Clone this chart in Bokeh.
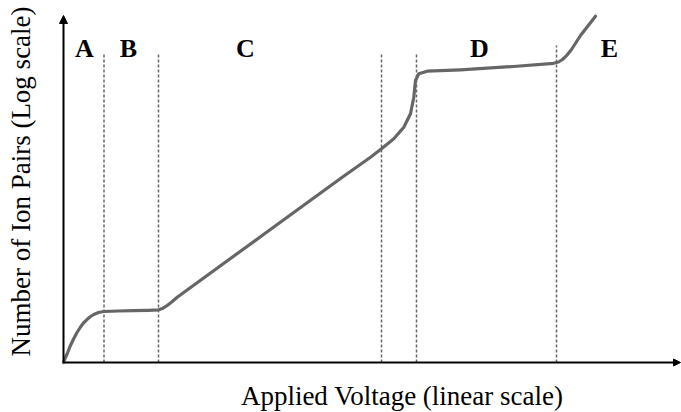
import math
from bokeh.plotting import figure
from bokeh.models import Range1d, Arrow, NormalHead, Label, ColumnDataSource
from bokeh.core.properties import value
from bokeh.embed import file_html
from bokeh.resources import INLINE

# Curve: applied voltage (arbitrary linear units) vs log number of ion pairs (arbitrary units)
voltage = [0, 1.5, 3.7, 6.5, 10.3, 13.5, 17, 20, 23.7, 27, 30.3, 35, 40.3, 55, 70, 85,
           95.3, 99.5, 103.7, 108.5, 113.7, 200, 277, 307, 318, 330.3, 340.3, 347, 350.3,
           352, 355.3, 363.7, 397, 450, 490, 495, 499, 503, 508, 517, 532]
log_ion_pairs = [0, 4, 8.7, 16, 24, 30, 35.5, 39.5, 43.2, 46, 48, 50, 51, 51.5, 51.8, 52.2,
                 52.7, 54.3, 57, 60.8, 65.3, 128, 184, 205.3, 213.7, 223.7, 235.3, 248.7, 265.3,
                 282, 288.7, 291.3, 292.7, 296, 299.2, 300.5, 303, 306.8, 313, 327, 346.3]

# Region boundaries (dashed lines) and region labels
boundaries = [40.5, 95, 318, 353, 493]
boundary_tops = [310, 310, 310, 310, 317]
regions = ["A", "B", "C", "D", "E"]
region_centers = [21, 65, 182, 416, 546]
region_label_level = [314.5, 314.5, 314.5, 314.5, 314.5]

x_label = "Applied Voltage (linear scale)"
y_label = "Number of Ion Pairs (Log scale)"

p = figure(width=681, height=412, output_backend="svg", toolbar_location=None,
           x_range=Range1d(-63, 618), y_range=Range1d(-50, 362),
           min_border=0, min_border_left=0, min_border_right=0,
           min_border_top=0, min_border_bottom=0)
p.xaxis.visible = False
p.yaxis.visible = False
p.xgrid.visible = False
p.ygrid.visible = False
p.outline_line_color = None
p.background_fill_color = "white"
p.border_fill_color = "white"

# dashed region boundaries
p.segment(x0=boundaries, y0=[0] * len(boundaries), x1=boundaries, y1=boundary_tops,
          line_color="#666666", line_width=1.5, line_dash="3 2")

# curve
p.line(voltage, log_ion_pairs, line_color="#666666", line_width=3.2,
       line_join="round", line_cap="round")

# axes with arrows
p.add_layout(Arrow(end=NormalHead(size=8, fill_color="black", line_color="black"),
                   x_start=0, y_start=0, x_end=0, y_end=347,
                   line_color="black", line_width=2))
p.add_layout(Arrow(end=NormalHead(size=7, fill_color="black", line_color="black"),
                   x_start=0, y_start=0, x_end=617, y_end=0,
                   line_color="black", line_width=2))

# region labels
src = ColumnDataSource(dict(x=region_centers, y=region_label_level, t=regions))
p.text(x="x", y="y", text="t", source=src, text_font=value("Liberation Serif"),
       text_font_style="bold", text_font_size="26px", text_align="center",
       text_baseline="middle", text_color="black")

# axis titles
p.add_layout(Label(x=338.7, y=-33.5, text=x_label, text_font="Liberation Serif",
                   text_font_size="27px", text_align="center", text_baseline="alphabetic",
                   text_color="black"))
p.add_layout(Label(x=-42.5, y=181, text=y_label, angle=math.pi / 2,
                   text_font="Liberation Serif", text_font_size="27px",
                   text_align="center", text_baseline="alphabetic", text_color="black"))

open("out.html", "w").write(file_html(p, INLINE))
